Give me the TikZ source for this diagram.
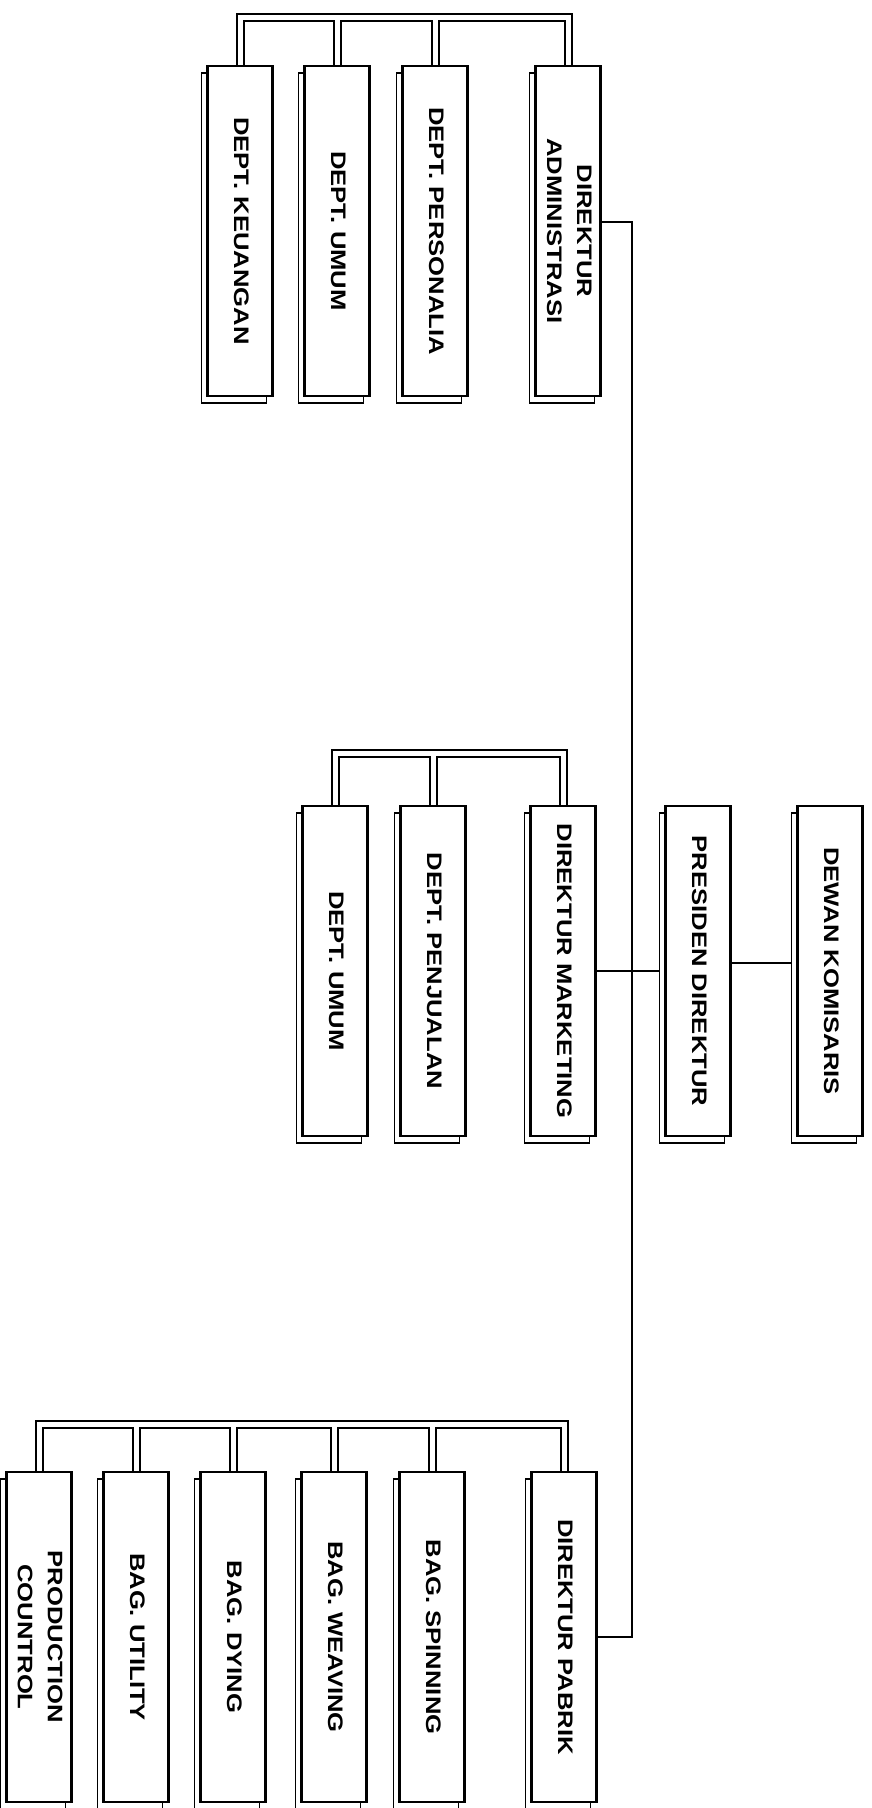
\documentclass[tikz,border=0pt]{standalone}
\usepackage{fontspec}
\setmainfont[FakeStretch=1.22]{Liberation Sans}
\usepackage{graphicx}
\usetikzlibrary{shadows,backgrounds}
\newcommand{\vlab}[1]{\rotatebox{-90}{\begin{tabular}{@{}c@{}}#1\end{tabular}}}

\begin{document}
\begin{tikzpicture}[x=1pt,y=-1pt,every node/.style={font=\fontsize{21}{30}\selectfont\bfseries},
 unit/.style={draw,fill=white,line width=2.8pt,minimum width=65pt,minimum height=330pt,inner sep=0pt,
  general shadow={shadow xshift=-6pt,shadow yshift=-7pt,draw=black,fill=white,line width=1.5pt}},
 bus/.style={double,double distance=5pt,line width=2pt},
 link/.style={line width=2pt}]
\useasboundingbox (0,0) rectangle (872,1808);
% administrasi
\node[unit] (keu) at (240,231) {\vlab{DEPT. KEUANGAN}};\node[unit] (umA) at (337,231) {\vlab{DEPT. UMUM}};
\node[unit] (pers) at (435,231) {\vlab{DEPT. PERSONALIA}};\node[unit] (da) at (568,231) {\vlab{DIREKTUR\\ADMINISTRASI}};
% marketing + pimpinan
\node[unit] (umB) at (335,971) {\vlab{DEPT. UMUM}};\node[unit] (penj) at (433,971) {\vlab{DEPT. PENJUALAN}};
\node[unit] (dm) at (563,971) {\vlab{DIREKTUR MARKETING}};
\node[unit] (pd) at (698,971) {\vlab{PRESIDEN DIREKTUR}};\node[unit] (dk) at (830,971) {\vlab{DEWAN KOMISARIS}};
% pabrik
\node[unit] (pc) at (39,1637) {\vlab{PRODUCTION\\COUNTROL}};\node[unit] (util) at (136,1637) {\vlab{BAG. UTILITY}};
\node[unit] (dying) at (233,1637) {\vlab{BAG. DYING}};\node[unit] (weav) at (334,1637) {\vlab{BAG. WEAVING}};
\node[unit] (spin) at (432,1637) {\vlab{BAG. SPINNING}};\node[unit] (dp) at (564,1637) {\vlab{DIREKTUR PABRIK}};
\coordinate (topbus) at (0,17);\coordinate (midbus) at (0,753);\coordinate (botbus) at (0,1424);\coordinate (trunk) at (632,971);
\begin{scope}[on background layer]
\draw[bus] (keu.north) -- (keu.north |- topbus) -| (da.north) (umA.north) -- (umA.north |- topbus) (pers.north) -- (pers.north |- topbus);
\draw[bus] (umB.north) -- (umB.north |- midbus) -| (dm.north) (penj.north) -- (penj.north |- midbus);
\draw[bus] (pc.north) -- (pc.north |- botbus) -| (dp.north) (util.north) -- (util.north |- botbus) (dying.north) -- (dying.north |- botbus)
 (weav.north) -- (weav.north |- botbus) (spin.north) -- (spin.north |- botbus);
\draw[link] ([yshift=9pt]da.east) -| (trunk) |- (dp.east);
\draw[link] (dm.east) -- (pd.west);\draw[link] ([yshift=8pt]pd.east) -- ([yshift=8pt]dk.west);
\end{scope}
\end{tikzpicture}
\end{document}
